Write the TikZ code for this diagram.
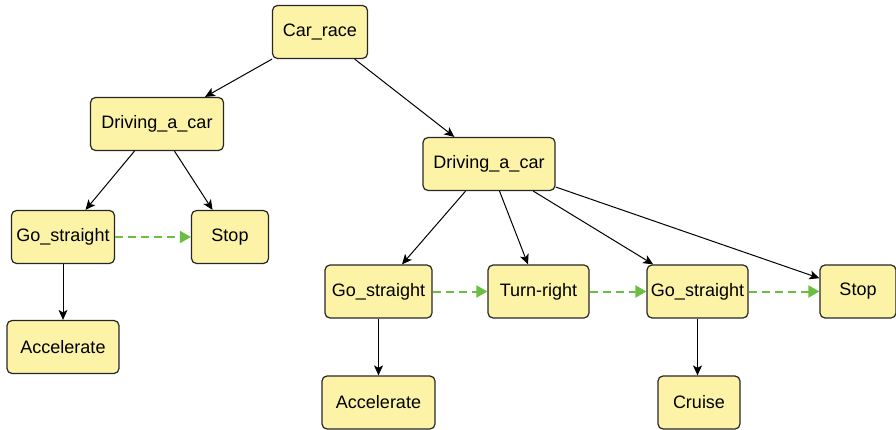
\documentclass[tikz,border=0pt]{standalone}
\usepackage{fontspec}
\setmainfont{Liberation Sans}
\usetikzlibrary{arrows.meta}
\definecolor{boxfill}{RGB}{252,243,166}
\definecolor{flowgreen}{RGB}{106,190,64}
\begin{document}
\begin{tikzpicture}[x=1pt,y=-1pt,
  box/.style={draw=black!85, line width=1.2pt, fill=boxfill, rounded corners=5pt,
    minimum height=53pt, inner sep=0pt, font=\fontsize{18}{20}\selectfont},
  link/.style={draw=black, line width=1pt, -{Stealth[length=10pt,width=9pt,inset=2.5pt]}},
  seq/.style={draw=flowgreen, line width=2pt, dash pattern=on 8pt off 5pt,
    -{Triangle[length=11pt,width=12pt]}}]
\useasboundingbox (0,0) rectangle (896,430);

% task tree
\node[box, minimum width=95pt]  (race)  at (320,32)    {Car\_race};
\node[box, minimum width=133pt] (drvL)  at (157,124)   {Driving\_a\_car};
\node[box, minimum width=103pt] (goL)   at (63,237)    {Go\_straight};
\node[box, minimum width=77pt]  (stopL) at (230,237)   {Stop};
\node[box, minimum width=112pt] (accL)  at (63,347)    {Accelerate};
\node[box, minimum width=132pt] (drvR)  at (489,164)   {Driving\_a\_car};
\node[box, minimum width=107pt] (goR1)  at (378.5,291.5) {Go\_straight};
\node[box, minimum width=101pt] (turn)  at (538.5,291.5) {Turn-right};
\node[box, minimum width=101pt] (goR2)  at (697.5,291.5) {Go\_straight};
\node[box, minimum width=76pt]  (stopR) at (858,291.5) {Stop};
\node[box, minimum width=113pt] (accR)  at (378.5,402.5) {Accelerate};
\node[box, minimum width=82pt]  (cruise) at (699,402.5) {Cruise};

% decomposition links
\draw[link] (race) -- (drvL);
\draw[link] (race) -- (drvR);
\draw[link] (drvL) -- (goL);
\draw[link] (drvL) -- (stopL);
\draw[link] (goL) -- (accL);
\draw[link] (drvR) -- (goR1);
\draw[link] (drvR) -- (turn);
\draw[link] (drvR) -- (goR2);
\draw[link] (drvR) -- (stopR);
\draw[link] (goR1) -- (accR);
\draw[link] (goR2 |- goR2.south) -- (cruise.north -| goR2);

% sequence links
\draw[seq] (goL) -- (stopL);
\draw[seq] (goR1) -- (turn);
\draw[seq] (turn) -- (goR2);
\draw[seq] (goR2) -- (stopR);
\end{tikzpicture}
\end{document}
